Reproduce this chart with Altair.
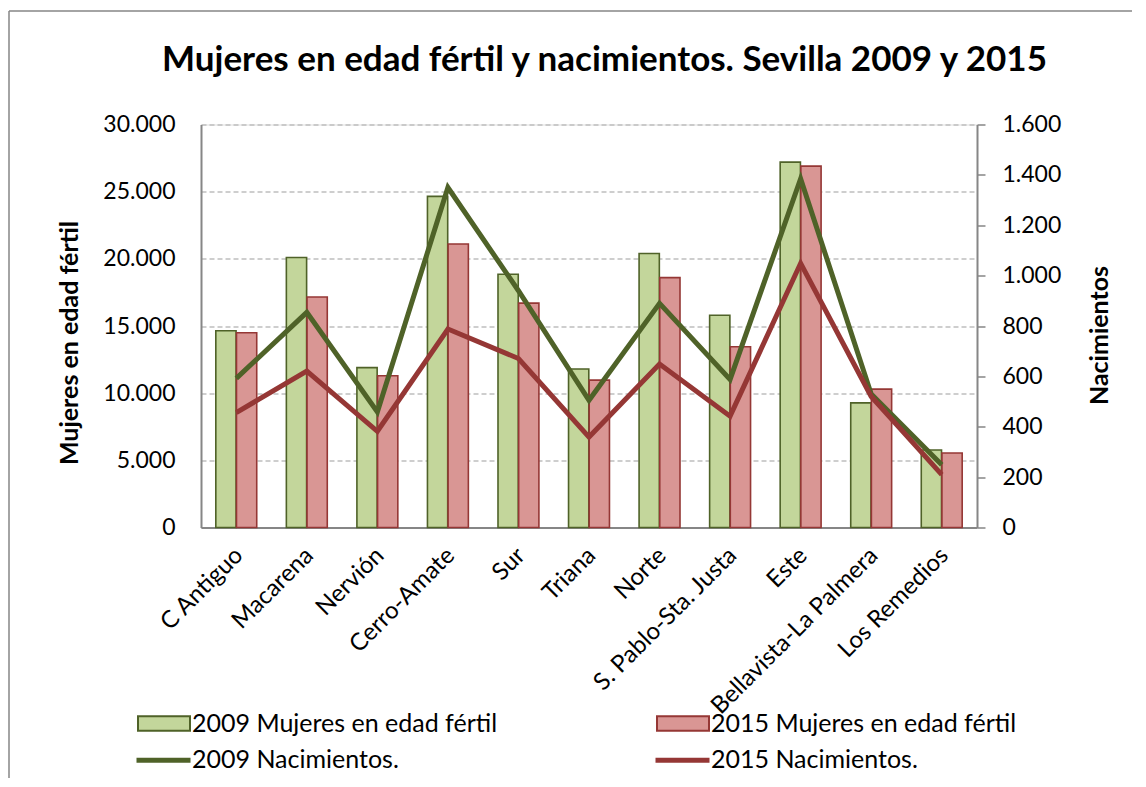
import altair as alt
import pandas as pd

zonas = ["C Antiguo", "Macarena", "Nervión", "Cerro-Amate", "Sur", "Triana", "Norte",
         "S. Pablo-Sta. Justa", "Este", "Bellavista-La Palmera", "Los Remedios"]
mujeres_2009 = [14650, 20100, 11900, 24650, 18850, 11800, 20400, 15800, 27200, 9280, 5770]
mujeres_2015 = [14500, 17160, 11300, 21100, 16700, 10970, 18600, 13450, 26900, 10300, 5550]
nac_2009 = [592, 854, 459, 1350, 940, 505, 890, 588, 1385, 530, 249]
nac_2015 = [456, 621, 382, 788, 671, 359, 649, 442, 1049, 520, 210]

series_m = ["2009 Mujeres en edad fértil", "2015 Mujeres en edad fértil"]
series_n = ["2009 Nacimientos.", "2015 Nacimientos."]

bars_df = pd.DataFrame(
    [{"zona": z, "serie": series_m[0], "valor": v} for z, v in zip(zonas, mujeres_2009)]
    + [{"zona": z, "serie": series_m[1], "valor": v} for z, v in zip(zonas, mujeres_2015)]
)
lines_df = pd.DataFrame(
    [{"zona": z, "serie": series_n[0], "valor": v} for z, v in zip(zonas, nac_2009)]
    + [{"zona": z, "serie": series_n[1], "valor": v} for z, v in zip(zonas, nac_2015)]
)

FONT = "Lato"
AX = "#868686"
GREEN_D, RED_D = "#4F6228", "#953735"

x_axis = alt.Axis(labelAngle=-45, labelAlign="right", labelBaseline="middle",
                  labelPadding=24, labelOffset=3, ticks=False, domainColor=AX,
                  domainWidth=2, grid=False, title=None, labelFont=FONT,
                  labelFontSize=24, labelColor="black", labelLimit=500)
x_enc = alt.X("zona:N", sort=zonas, axis=x_axis,
              scale=alt.Scale(paddingInner=0.42, paddingOuter=0.21))

leg_bar = alt.Legend(orient="none", legendX=-64, legendY=572, columns=2,
                     columnPadding=155, symbolType="M-1,-0.28H1V0.28H-1Z",
                     symbolSize=2704, symbolStrokeWidth=2, labelFont=FONT,
                     labelFontSize=25, labelColor="black", labelOffset=1,
                     labelLimit=600, title=None, padding=0,
                     symbolStrokeColor=alt.ExprRef(
                         expr=f"indexof(datum.label, '2009') >= 0 ? '{GREEN_D}' : '{RED_D}'"))
leg_line = alt.Legend(orient="none", legendX=-67, legendY=606, columns=2,
                      columnPadding=246, symbolType="stroke", symbolSize=2916,
                      symbolStrokeWidth=5, labelFont=FONT, labelFontSize=25,
                      labelColor="black", labelOffset=alt.ExprRef(expr="-1"),
                      labelLimit=600, title=None, padding=0)

bars = alt.Chart(bars_df).mark_bar(strokeWidth=1.6).encode(
    x=x_enc,
    xOffset=alt.XOffset("serie:N", sort=series_m, scale=alt.Scale(paddingInner=0.02)),
    y=alt.Y("valor:Q", scale=alt.Scale(domain=[0, 30000], nice=False),
            axis=alt.Axis(values=list(range(0, 30001, 5000)),
                          labelExpr="replace(format(datum.value, ','), ',', '.')",
                          ticks=False, labelPadding=26, domainColor=AX, domainWidth=2,
                          gridDash=[5, 3], gridColor="#BFBFBF", gridWidth=1.3,
                          labelFont=FONT, labelFontSize=23, labelColor="black",
                          title="Mujeres en edad fértil", titleFont=FONT,
                          titleFontSize=25, titleFontWeight="bold", titleColor="black",
                          titleAngle=-90, titleX=-124, titleY=218, titleAlign="center",
                          titleBaseline="alphabetic")),
    fill=alt.Fill("serie:N", scale=alt.Scale(domain=series_m, range=["#C3D69B", "#D99694"]),
                  legend=leg_bar),
    stroke=alt.condition(alt.datum.serie == series_m[0], alt.value(GREEN_D), alt.value(RED_D)),
)

lines = alt.Chart(lines_df).mark_line(strokeWidth=5).encode(
    x=x_enc,
    y=alt.Y("valor:Q", scale=alt.Scale(domain=[0, 1600], nice=False),
            axis=alt.Axis(orient="right", values=list(range(0, 1601, 200)),
                          labelExpr="replace(format(datum.value, ','), ',', '.')",
                          tickSize=8, tickColor=AX, tickWidth=1.5, labelPadding=17,
                          domainColor=AX, domainWidth=2, grid=False,
                          labelFont=FONT, labelFontSize=23, labelColor="black",
                          title="Nacimientos", titleFont=FONT, titleFontSize=25,
                          titleFontWeight="bold", titleColor="black", titleAngle=-90,
                          titleX=130, titleY=210.5, titleAlign="center",
                          titleBaseline="alphabetic")),
    stroke=alt.Stroke("serie:N", scale=alt.Scale(domain=series_n, range=[GREEN_D, RED_D]),
                      legend=leg_line),
)

frame_v = alt.Chart(alt.Data(values=[{}])).mark_rule(color=AX, strokeWidth=1.5).encode(
    x=alt.value(-192), y=alt.value(-113.5), y2=alt.value(700))
frame_h = alt.Chart(alt.Data(values=[{}])).mark_rule(color=AX, strokeWidth=1.5).encode(
    x=alt.value(-192), x2=alt.value(1200), y=alt.value(-113.5))

chart = alt.layer(bars, lines, frame_v, frame_h).resolve_scale(
    y="independent"
).properties(
    width=776, height=403,
    title=alt.TitleParams("Mujeres en edad fértil y nacimientos. Sevilla 2009 y 2015",
                          font=FONT, fontSize=35, fontWeight="bold", color="black",
                          anchor="middle", frame="group", offset=-96, dx=15.5,
                          baseline="alphabetic"),
    autosize=alt.AutoSizeParams(type="none"),
    padding={"left": 193, "top": 116.5, "right": 155, "bottom": 250},
).configure_view(stroke=None).configure(background="white")

chart.save("out.html", embed_options={"renderer": "svg", "actions": False})
